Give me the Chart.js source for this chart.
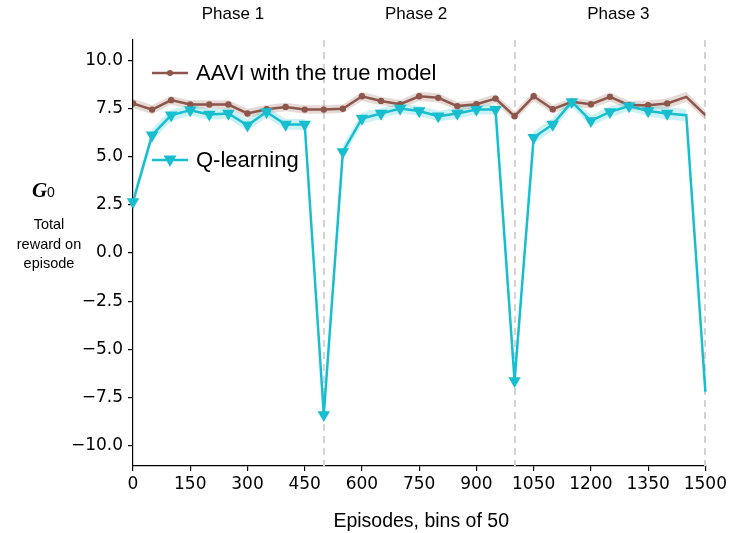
<!DOCTYPE html>
<html>
<head>
<meta charset="utf-8">
<script src="https://cdn.jsdelivr.net/npm/chart.js@4"></script>
<style>
  html, body { margin: 0; padding: 0; background: #ffffff; }
  #wrap { width: 730px; height: 533px; }
</style>
</head>
<body>
<div id="wrap"><canvas id="rewardChart" width="730" height="533"></canvas></div>
<script>
// Episode bins (x positions of the points)
const episodes = [0, 50, 100, 150, 200, 250, 300, 350, 400, 450, 500,
    550, 600, 650, 700, 750, 800, 850, 900, 950, 1000,
    1050, 1100, 1150, 1200, 1250, 1300, 1350, 1400, 1450, 1500];

// Mean total reward per bin, and the half-width of the shaded band
const aaviReward = [7.76, 7.44, 7.93, 7.70, 7.70, 7.70, 7.24, 7.46, 7.58, 7.44, 7.44,
    7.48, 8.13, 7.89, 7.72, 8.13, 8.05, 7.62, 7.72, 8.01, 7.10,
    8.13, 7.46, 7.84, 7.72, 8.10, 7.67, 7.67, 7.76, 8.10, 7.15];
const aaviSpread = [0.24, 0.24, 0.22, 0.22, 0.22, 0.22, 0.24, 0.22, 0.22, 0.22, 0.22,
    0.22, 0.24, 0.22, 0.22, 0.24, 0.24, 0.22, 0.22, 0.24, 0.24,
    0.24, 0.22, 0.22, 0.22, 0.24, 0.22, 0.24, 0.26, 0.26, 0.24];

const qReward = [2.66, 6.11, 7.15, 7.41, 7.19, 7.24, 6.63, 7.32, 6.67, 6.67, -8.39,
    5.25, 6.98, 7.24, 7.50, 7.37, 7.10, 7.24, 7.44, 7.44, -6.63,
    5.99, 6.67, 7.84, 6.86, 7.32, 7.62, 7.37, 7.24, 7.15, -7.20];
const qSpread = [0.28, 0.32, 0.30, 0.28, 0.28, 0.28, 0.30, 0.28, 0.28, 0.28, 0.28,
    0.32, 0.30, 0.28, 0.25, 0.25, 0.28, 0.28, 0.25, 0.25, 0.28,
    0.32, 0.32, 0.25, 0.28, 0.28, 0.25, 0.28, 0.32, 0.32, 0.28];

// Axis ticks
const xTicks = [0, 150, 300, 450, 600, 750, 900, 1050, 1200, 1350, 1500];
const yTicks = [-10, -7.5, -5, -2.5, 0, 2.5, 5, 7.5, 10];

// Phases of the environment
const phaseNames = ['Phase 1', 'Phase 2', 'Phase 3'];
const phaseLabelAt = [262, 742, 1272];
const phaseEnds = [500, 1000, 1500];

const lastMarked = 1400;

const BROWN = '#8c564b';
const CYAN = '#17becf';

function points(values) {
    return episodes.map((x, i) => ({ x: x, y: values[i] }));
}
function shifted(values, spread, sign) {
    return episodes.map((x, i) => ({ x: x, y: values[i] + sign * spread[i] }));
}
function markerRadius(r) {
    return ctx => (episodes[ctx.dataIndex] <= lastMarked ? r : 0);
}

const bandStyle = { pointRadius: 0, borderWidth: 0, tension: 0 };

// dashed phase boundaries, phase names, legend and axis titles
const decorations = {
    id: 'decorations',
    beforeDatasetsDraw(chart) {
        const { ctx, chartArea, scales } = chart;
        ctx.save();
        ctx.strokeStyle = '#d4d4d4';
        ctx.lineWidth = 2;
        ctx.setLineDash([7, 5]);
        phaseEnds.forEach(v => {
            const px = Math.round(scales.x.getPixelForValue(v));
            ctx.beginPath();
            ctx.moveTo(px, chartArea.top);
            ctx.lineTo(px, chartArea.bottom);
            ctx.stroke();
        });
        ctx.restore();
    },
    afterDraw(chart) {
        const { ctx, chartArea, scales } = chart;
        ctx.save();
        ctx.fillStyle = '#000';
        ctx.textAlign = 'center';
        ctx.textBaseline = 'middle';

        ctx.font = '17px "Liberation Sans", Arial, sans-serif';
        phaseNames.forEach((name, i) => {
            ctx.fillText(name, scales.x.getPixelForValue(phaseLabelAt[i]), 14);
        });

        // x title
        ctx.font = '19.5px "Liberation Sans", Arial, sans-serif';
        ctx.fillText('Episodes, bins of 50', (chartArea.left + chartArea.right) / 2 + 2, 522);

        // y title: G0 and description
        ctx.textAlign = 'left';
        ctx.textBaseline = 'alphabetic';
        ctx.font = 'bold italic 21px "Liberation Serif", "DejaVu Serif", serif';
        ctx.fillText('G', 32, 197);
        ctx.font = '14px "Liberation Sans", Arial, sans-serif';
        ctx.fillText('0', 47, 197);
        ctx.textAlign = 'center';
        ctx.textBaseline = 'middle';
        ctx.font = '14.5px "Liberation Sans", Arial, sans-serif';
        ['Total', 'reward on', 'episode'].forEach((t, i) => ctx.fillText(t, 49, 225 + i * 19.5));

        // legend
        const entries = [
            { label: 'AAVI with the true model', color: BROWN, y: 73, marker: 'circle' },
            { label: 'Q-learning', color: CYAN, y: 160, marker: 'triangle' }
        ];
        entries.forEach(e => {
            ctx.strokeStyle = e.color;
            ctx.fillStyle = e.color;
            ctx.lineWidth = 2.5;
            ctx.beginPath();
            ctx.moveTo(152, e.y);
            ctx.lineTo(188, e.y);
            ctx.stroke();
            ctx.beginPath();
            if (e.marker === 'circle') {
                ctx.arc(170, e.y, 3, 0, Math.PI * 2);
            } else {
                ctx.moveTo(170, e.y + 7);
                ctx.lineTo(170 - 6.5, e.y - 4.5);
                ctx.lineTo(170 + 6.5, e.y - 4.5);
                ctx.closePath();
            }
            ctx.fill();
            ctx.fillStyle = '#000';
            ctx.textAlign = 'left';
            ctx.font = '22px "Liberation Sans", Arial, sans-serif';
            ctx.fillText(e.label, 196, e.y + 1);
        });
        ctx.restore();
    }
};

const tickFont = { family: '"DejaVu Sans", sans-serif', size: 17 };

new Chart(document.getElementById('rewardChart').getContext('2d'), {
    type: 'line',
    data: {
        datasets: [
            { data: shifted(aaviReward, aaviSpread, 1), ...bandStyle, fill: false, order: 3 },
            { data: shifted(aaviReward, aaviSpread, -1), ...bandStyle, fill: '-1',
              backgroundColor: 'rgba(140, 86, 75, 0.22)', order: 3 },
            { data: shifted(qReward, qSpread, 1), ...bandStyle, fill: false, order: 2 },
            { data: shifted(qReward, qSpread, -1), ...bandStyle, fill: '-1',
              backgroundColor: 'rgba(23, 190, 207, 0.22)', order: 2 },
            {
                label: 'AAVI with the true model',
                data: points(aaviReward),
                borderColor: BROWN,
                backgroundColor: BROWN,
                borderWidth: 2.5,
                pointStyle: 'circle',
                pointRadius: markerRadius(3.2),
                pointBorderWidth: 0,
                tension: 0,
                fill: false,
                order: 1
            },
            {
                label: 'Q-learning',
                data: points(qReward),
                borderColor: CYAN,
                backgroundColor: CYAN,
                borderWidth: 2.5,
                pointStyle: 'triangle',
                pointRotation: 180,
                pointRadius: markerRadius(7.2),
                pointBorderWidth: 0,
                tension: 0,
                fill: false,
                clip: false,
                order: 0
            }
        ]
    },
    options: {
        responsive: false,
        animation: false,
        layout: { padding: { left: 0, right: 24, top: 40, bottom: 0 } },
        plugins: {
            legend: { display: false },
            tooltip: { enabled: false }
        },
        elements: { point: { hoverRadius: 0 } },
        scales: {
            x: {
                type: 'linear',
                min: 0,
                max: 1500,
                afterFit: s => { s.height = 67; },
                afterBuildTicks: s => { s.ticks = xTicks.map(v => ({ value: v })); },
                grid: { drawOnChartArea: false, drawTicks: true, tickLength: 5, color: '#000', lineWidth: 1.2 },
                border: { display: true, color: '#000', width: 1.2 },
                ticks: { color: '#000', font: tickFont, padding: 3, maxRotation: 0,
                         callback: v => String(v) }
            },
            y: {
                type: 'linear',
                min: -11.05,
                max: 11.05,
                afterFit: s => { s.width = 133; },
                afterBuildTicks: s => { s.ticks = yTicks.map(v => ({ value: v })); },
                grid: { drawOnChartArea: false, drawTicks: true, tickLength: 5, color: '#000', lineWidth: 1.2 },
                border: { display: true, color: '#000', width: 1.2 },
                ticks: { color: '#000', font: tickFont, padding: 5,
                         callback: v => (v < 0 ? '\u2212' + Math.abs(v).toFixed(1) : v.toFixed(1)) }
            }
        }
    },
    plugins: [decorations]
});
</script>
</body>
</html>
